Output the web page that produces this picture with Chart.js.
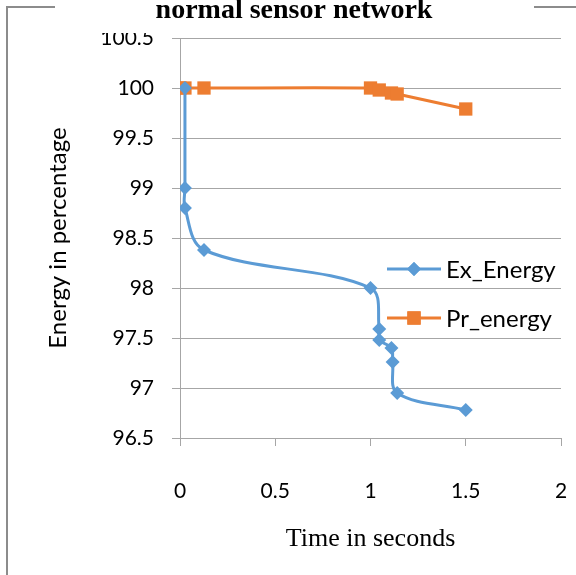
<!DOCTYPE html>
<html>
<head>
<meta charset="utf-8">
<script src="https://cdn.jsdelivr.net/npm/chart.js@4.4.1/dist/chart.umd.min.js"></script>
<style>
  html, body { margin: 0; padding: 0; background: #fff; }
  #wrap { width: 576px; height: 575px; }
</style>
</head>
<body>
<div id="wrap"><canvas id="chart" width="576" height="575"></canvas></div>
<script>
// values
var exTime   = [0.026, 0.026, 0.026, 0.126, 1.0, 1.046, 1.046, 1.11, 1.116, 1.14, 1.5];
var exEnergy = [100, 99.0, 98.8, 98.38, 98.0, 97.59, 97.48, 97.4, 97.26, 96.95, 96.78];
var prTime   = [0.0, 0.026, 0.126, 1.0, 1.046, 1.11, 1.14, 1.5];
var prEnergy = [100, 100, 100, 100, 99.98, 99.95, 99.94, 99.79];
var seriesNames = ['Ex_Energy', 'Pr_energy'];
var seriesColors = ['#5B9BD5', '#ED7D31'];

function toPoints(xs, ys) {
  return xs.map(function (x, i) { return { x: x, y: ys[i] }; });
}

var tickFont = { family: 'Lato, "Open Sans", sans-serif', size: 21 };

var decor = {
  id: 'decor',
  afterDraw: function (chart) {
    var ctx = chart.ctx;
    ctx.save();
    // outer frame of the original chart object
    ctx.strokeStyle = '#8c8c8c';
    ctx.lineWidth = 2;
    ctx.beginPath();
    ctx.moveTo(7, 600);
    ctx.lineTo(7, 7);
    ctx.lineTo(600, 7);
    ctx.stroke();

    // title box (covers top of the 100.5 label like the original)
    ctx.fillStyle = '#fff';
    ctx.fillRect(55, 0, 479, 33);
    ctx.fillStyle = '#000';
    ctx.font = 'bold 28px "Liberation Serif", "Times New Roman", serif';
    ctx.textAlign = 'center';
    ctx.textBaseline = 'alphabetic';
    ctx.fillText('normal sensor network', 294, 18);

    // legend
    var ly = [269, 318];
    ctx.font = '24px Lato, "Open Sans", sans-serif';
    ctx.textAlign = 'left';
    ctx.textBaseline = 'middle';
    for (var i = 0; i < 2; i++) {
      ctx.strokeStyle = seriesColors[i];
      ctx.lineWidth = 3;
      ctx.beginPath();
      ctx.moveTo(387, ly[i]);
      ctx.lineTo(441, ly[i]);
      ctx.stroke();
      ctx.fillStyle = seriesColors[i];
      Chart.helpers.drawPoint(ctx, {
        pointStyle: i === 0 ? 'rectRot' : 'rect',
        radius: i === 0 ? 7 : 9.4,
        rotation: 0,
        borderWidth: 0
      }, 414, ly[i]);
      ctx.fill();
      ctx.fillStyle = '#000';
      ctx.fillText(seriesNames[i], 446, ly[i] + 1);
    }
    ctx.restore();
  }
};

new Chart(document.getElementById('chart'), {
  type: 'scatter',
  data: {
    datasets: [{
      label: seriesNames[0],
      data: toPoints(exTime, exEnergy),
      showLine: true,
      borderColor: seriesColors[0],
      backgroundColor: seriesColors[0],
      borderWidth: 3,
      tension: 0.35,
      pointStyle: 'rectRot',
      pointRadius: 7,
      pointBorderWidth: 0
    }, {
      label: seriesNames[1],
      data: toPoints(prTime, prEnergy),
      showLine: true,
      borderColor: seriesColors[1],
      backgroundColor: seriesColors[1],
      borderWidth: 3,
      tension: 0.3,
      pointStyle: 'rect',
      pointRadius: 9.4,
      pointBorderWidth: 0
    }]
  },
  options: {
    responsive: false,
    animation: false,
    events: [],
    layout: { padding: { top: 38, right: 15, left: 0, bottom: 0 } },
    plugins: {
      legend: { display: false },
      tooltip: { enabled: false }
    },
    scales: {
      x: {
        type: 'linear',
        min: 0, max: 2,
        ticks: {
          stepSize: 0.5, color: '#000', font: tickFont, padding: 33, maxRotation: 0,
          callback: function (v) { return String(v); }
        },
        grid: { display: true, drawOnChartArea: false, color: '#a6a6a6', tickLength: 8, lineWidth: 1 },
        border: { color: '#a6a6a6', width: 1 },
        title: {
          display: true, text: 'Time in seconds', color: '#000',
          font: { family: '"Liberation Serif", "Times New Roman", serif', size: 26 },
          padding: { top: 0, bottom: 20 }
        },
        afterFit: function (s) { s.height = 137; s.paddingLeft = 0; s.paddingRight = 0; }
      },
      y: {
        min: 96.5, max: 100.5,
        ticks: {
          stepSize: 0.5, color: '#000', font: tickFont, padding: 18,
          callback: function (v) { return String(v); }
        },
        grid: { color: '#a6a6a6', tickLength: 8, lineWidth: 1 },
        border: { color: '#a6a6a6', width: 1 },
        title: {
          display: true, text: 'Energy in percentage', color: '#000',
          font: { family: 'Lato, "Open Sans", sans-serif', size: 24 },
          padding: { top: 44, bottom: 0 }
        },
        afterFit: function (s) { s.width = 180; }
      }
    }
  },
  plugins: [decor]
});
</script>
</body>
</html>
